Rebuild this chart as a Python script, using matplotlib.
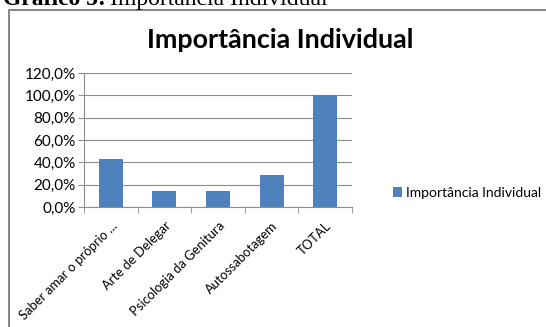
import matplotlib.pyplot as plt
from matplotlib.patches import Rectangle
from matplotlib.ticker import FuncFormatter

categories = ["Saber amar o próprio ...", "Arte de Delegar", "Psicologia da Genitura",
              "Autossabotagem", "TOTAL"]
values = [0.429, 0.143, 0.143, 0.286, 1.0]
series_name = "Importância Individual"
yticks = [0.0, 0.2, 0.4, 0.6, 0.8, 1.0, 1.2]

plt.rcParams["font.family"] = ["Lato", "DejaVu Sans"]

fig = plt.figure(figsize=(5.46, 3.27), dpi=100)
W, H = 546, 327

# outer chart frame
fig.patches.append(Rectangle((9 / W, -0.01), 1.0, 1 - 10 / H + 0.01, transform=fig.transFigure,
                             fill=False, edgecolor="#6e6e6e", linewidth=1.2))

# caption cut off at top
cap = fig.text(3 / W, 1 - 5 / H, "Gráfico 5:", family="Liberation Serif",
               fontsize=17, fontweight="bold", va="baseline", ha="left")
fig.canvas.draw()
bb = cap.get_window_extent()
fig.text(bb.x1 / W + 4 / W, 1 - 5 / H, "Importância Individual", family="Liberation Serif",
         fontsize=17, va="baseline", ha="left")

ax = fig.add_axes([84 / W, 1 - 207 / H, (352 - 84) / W, (207 - 73) / H])
x = list(range(len(categories)))
ax.bar(x, values, width=0.45, color="#4F81BD", label=series_name, zorder=3)

ax.set_xlim(-0.5, len(categories) - 0.5)
ax.set_ylim(0, 1.2)
ax.set_yticks(yticks)
ax.yaxis.set_major_formatter(FuncFormatter(lambda v, p: f"{v * 100:.1f}%".replace(".", ",")))
ax.grid(axis="y", color="#8c8c8c", linewidth=0.8, zorder=0)

ax.set_xticks(x)
ax.set_xticklabels(categories, rotation=45, ha="right", rotation_mode="anchor", fontsize=9.4)
ax.set_xticks([i - 0.5 for i in range(len(categories) + 1)], minor=True)
ax.tick_params(axis="x", which="major", length=0, pad=9)
ax.tick_params(axis="x", which="minor", length=4, color="#8c8c8c")
ax.tick_params(axis="y", length=4, color="#8c8c8c", labelsize=11, pad=2)

for s in ["top", "right"]:
    ax.spines[s].set_visible(False)
for s in ["left", "bottom"]:
    ax.spines[s].set_color("#8c8c8c")

fig.text(280 / W, 1 - 40 / H, "Importância Individual", ha="center", va="center",
         fontsize=19.4, fontweight="bold")

ax.legend(loc="center left", bbox_to_anchor=(380 / W, 1 - 193 / H), bbox_transform=fig.transFigure,
          frameon=False, fontsize=10, handlelength=0.7, handleheight=0.7, handletextpad=0.3)

fig.savefig("out.png", dpi=100)
